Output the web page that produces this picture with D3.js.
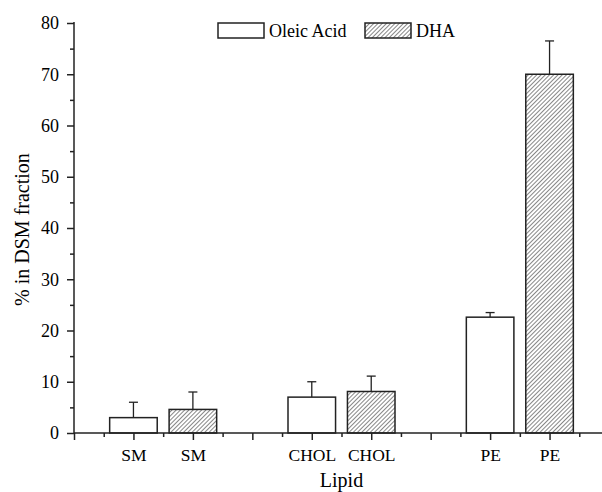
<!DOCTYPE html>
<html>
<head>
<meta charset="utf-8">
<script src="https://cdn.jsdelivr.net/npm/d3@7"></script>
<style>
  body { margin: 0; background: #fff; }
  svg { display: block; }
  text { font-family: "Liberation Serif", "Times New Roman", serif; fill: #000; }
</style>
</head>
<body>
<div id="chart"></div>
<script>
// values
var lipids = ["SM", "CHOL", "PE"];
var oleic = [3.0, 7.0, 22.6];
var oleicErr = [3.0, 3.0, 0.9];
var dha = [4.6, 8.1, 70.0];
var dhaErr = [3.4, 3.0, 6.5];
var seriesNames = ["Oleic Acid", "DHA"];
var yTicks = [0, 10, 20, 30, 40, 50, 60, 70, 80];

var W = 602, H = 492;
var svg = d3.select("#chart").append("svg").attr("width", W).attr("height", H);

// oleic bar sits at 1 + 3*i, dha at 2 + 3*i
var x = d3.scaleLinear().domain([0, 9]).range([74, 609]);
var y = d3.scaleLinear().domain([0, 80]).range([433, 23]);
var barW = x(0.8) - x(0);

var defs = svg.append("defs");
var pat = defs.append("pattern")
  .attr("id", "hatch")
  .attr("patternUnits", "userSpaceOnUse")
  .attr("width", 3).attr("height", 3)
  .attr("patternTransform", "rotate(45)");
pat.append("rect").attr("width", 3).attr("height", 3).attr("fill", "#fff");
pat.append("line").attr("x1", 0).attr("y1", 0).attr("x2", 0).attr("y2", 3)
  .attr("stroke", "#222").attr("stroke-width", 1.1);

var bars = [];
lipids.forEach(function (l, i) {
  bars.push({ lab: l, pos: 1 + 3 * i, v: oleic[i], e: oleicErr[i], s: 0 });
  bars.push({ lab: l, pos: 2 + 3 * i, v: dha[i], e: dhaErr[i], s: 1 });
});

// error bars (up only) drawn behind the bars
var eb = svg.append("g").attr("stroke", "#222").attr("stroke-width", 1.3);
bars.forEach(function (b) {
  var cx = x(b.pos);
  eb.append("line").attr("x1", cx).attr("x2", cx).attr("y1", y(b.v)).attr("y2", y(b.v + b.e));
  eb.append("line").attr("x1", cx - 4.5).attr("x2", cx + 4.5).attr("y1", y(b.v + b.e)).attr("y2", y(b.v + b.e));
});

svg.append("g").selectAll("rect").data(bars).enter().append("rect")
  .attr("x", function (d) { return x(d.pos) - barW / 2; })
  .attr("y", function (d) { return y(d.v); })
  .attr("width", barW)
  .attr("height", function (d) { return y(0) - y(d.v); })
  .attr("fill", function (d) { return d.s ? "url(#hatch)" : "#fff"; })
  .attr("stroke", "#222").attr("stroke-width", 1.5);

// y axis: major + minor ticks
var yAx = svg.append("g").attr("transform", "translate(" + x(0) + ",0)");
yAx.call(d3.axisLeft(y).tickValues(yTicks).tickSize(7).tickPadding(8));
yAx.append("g").call(d3.axisLeft(y).tickValues(d3.range(5, 80, 10)).tickSize(4).tickFormat(""));
yAx.selectAll(".domain").remove();
yAx.append("line").attr("x1", 0).attr("x2", 0).attr("y1", y(80) - 1).attr("y2", y(0) + 1);

// x axis
var majors = d3.range(0, 10);
var xLab = {};
bars.forEach(function (b) { xLab[b.pos] = b.lab; });
var xAx = svg.append("g").attr("transform", "translate(0," + y(0) + ")");
xAx.call(d3.axisBottom(x).tickValues(majors).tickSize(7).tickPadding(9)
  .tickFormat(function (d) { return xLab[d] || ""; }));
xAx.append("g").call(d3.axisBottom(x).tickValues(d3.range(0.5, 9, 1)).tickSize(4).tickFormat(""));
xAx.selectAll(".domain").remove();
xAx.append("line").attr("x1", x(0)).attr("x2", W).attr("y1", 0).attr("y2", 0);

svg.selectAll(".tick line").attr("stroke", "#222").attr("stroke-width", 1.3);
yAx.selectAll(".tick text").style("font-size", "18px").attr("fill", "#000");
xAx.selectAll(".tick text").style("font-size", "17.5px").attr("fill", "#000");
xAx.selectAll("line").attr("stroke", "#222").attr("stroke-width", 1.5);
yAx.selectAll("line").attr("stroke", "#222").attr("stroke-width", 1.5);

// axis titles
svg.append("text").attr("x", x(4.5)).attr("y", 487).attr("text-anchor", "middle")
  .style("font-size", "20px").text("Lipid");
svg.append("text").attr("transform", "translate(29," + y(39.7) + ") rotate(-90)")
  .attr("text-anchor", "middle").style("font-size", "20px").text("% in DSM fraction");

// legend
var leg = svg.append("g").attr("transform", "translate(218,23)");
seriesNames.forEach(function (n, i) {
  var g = leg.append("g").attr("transform", "translate(" + (i * 147) + ",0)");
  g.append("rect").attr("width", 46).attr("height", 15)
    .attr("fill", i ? "url(#hatch)" : "#fff").attr("stroke", "#222").attr("stroke-width", 1.5);
  g.append("text").attr("x", 51).attr("y", 13.5).style("font-size", "18px").text(n);
});
</script>
</body>
</html>
